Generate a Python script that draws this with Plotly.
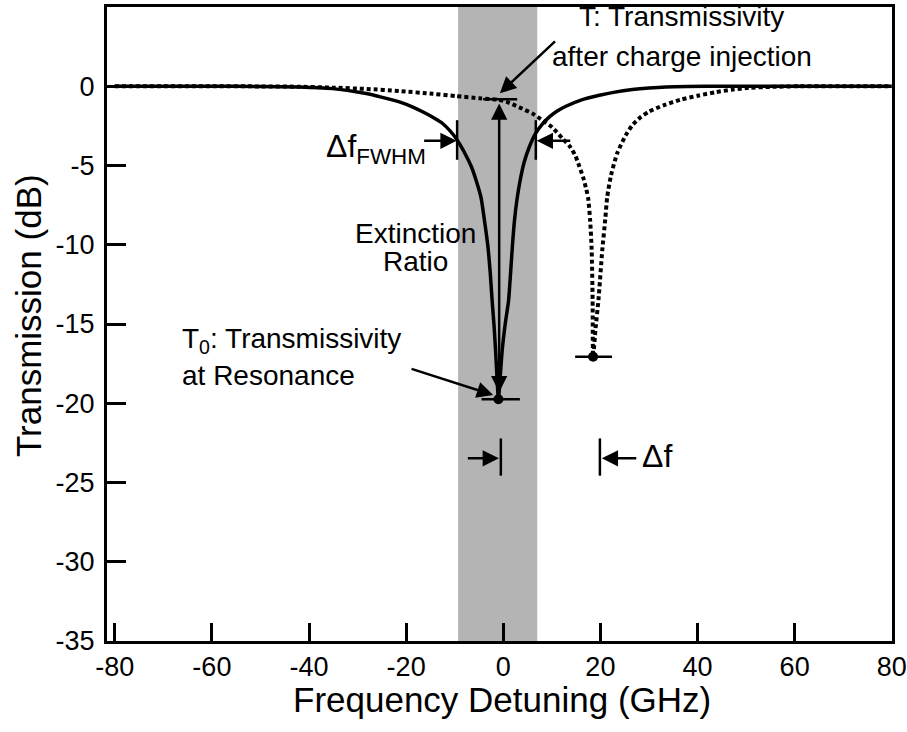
import plotly.graph_objects as go

# Resonance before charge injection (solid)
solid_x = [-80, -60, -50, -42, -35.1, -28.2, -24.9, -21.4, -18.5, -15.9, -14.0, -12.5,
           -11.0, -9.7, -8.7, -7.7, -6.6, -5.6, -4.6, -3.9, -3.2, -2.7, -2.3, -1.9,
           -1.6, -1.3, -1.0, -0.6, -0.2, 0.4, 1.1, 1.5, 1.9, 2.3, 2.8, 3.5, 4.3, 5.4,
           6.6, 8.0, 9.5, 11.2, 12.9, 16.0, 19.8, 23.0, 26.6, 30.0, 33.5, 38, 45, 60, 80]
solid_y = [0, 0, -0.01, -0.04, -0.15, -0.46, -0.7, -0.99, -1.33, -1.72, -2.05, -2.35,
           -2.8, -3.3, -3.8, -4.35, -5.05, -5.93, -7.0, -8.4, -10.0, -11.7, -13.5, -15.1,
           -16.6, -18.3, -19.75, -18.2, -16.6, -15.0, -13.5, -11.8, -10.0, -8.5, -7.2, -5.9,
           -4.8, -3.8, -3.0, -2.4, -1.93, -1.55, -1.26, -0.87, -0.57, -0.37, -0.21, -0.11,
           -0.04, -0.01, 0, 0, 0]

# Resonance after charge injection (dotted)
shifted_x = [-80, -60, -50, -42, -35, -28.2, -21.4, -14.5, -9.7, -4.9, -1.0, 0.6, 3.3,
             6.0, 8.1, 10.1, 12.2, 13.6, 14.8, 15.6, 16.5, 17.1, 17.5, 17.9, 18.2, 18.4,
             18.5, 19.0, 19.6, 20.4, 21.0, 21.4, 22.2, 23.5, 25.2, 26.6, 28.3, 30.0, 33.0,
             36.5, 40.3, 43.8, 47.0, 50.6, 55, 61, 80]
shifted_y = [0, 0, -0.01, -0.03, -0.09, -0.17, -0.3, -0.48, -0.62, -0.76, -0.85, -0.97,
             -1.33, -1.72, -2.15, -2.6, -3.3, -3.75, -4.35, -5.0, -5.8, -6.5, -7.1, -8.5,
             -10.3, -13.5, -17.07, -15.3, -13.5, -10.3, -8.4, -7.0, -5.6, -4.2, -3.1, -2.45,
             -1.95, -1.6, -1.2, -0.85, -0.58, -0.37, -0.22, -0.1, -0.04, 0, 0]

# Resonance minima
min_x = [-1.0, 18.5]
min_y = [-19.75, -17.07]

# Horizontal level markers: x start, x end, level
level_x0 = [-4.47, 14.8, -4.14]
level_x1 = [3.42, 22.4, 2.86]
level_y = [-19.75, -17.07, -0.82]

# Linewidth markers and resonance positions
fwhm_x = [-9.5, 6.7]
fwhm_y = -3.44
shift_x = [-0.5, 19.9]
shift_y = -23.47

# Shaded detuning window
band_x = [-9.3, 7.0]

x_ticks = [-80, -60, -40, -20, 0, 20, 40, 60, 80]
x_ticktext = ["-80", "-60", "-40", "-20", "0", "20", "40", "60", "80"]
y_ticks = [-35, -30, -25, -20, -15, -10, -5, 0]
y_ticktext = ["-35", "-30", "-25", "-20", "-15", "-10", "-5", "0"]

FONT = "Liberation Sans"
BLACK = "black"
W, H = 907, 732

fig = go.Figure()

fig.add_shape(type="rect", xref="x", yref="paper", x0=band_x[0], x1=band_x[1],
              y0=0, y1=1, fillcolor="rgb(180,180,180)", line_width=0, layer="below")

fig.add_trace(go.Scatter(x=solid_x, y=solid_y, mode="lines",
                         line=dict(color=BLACK, width=3.5, shape="spline", smoothing=0.6),
                         hoverinfo="skip"))
fig.add_trace(go.Scatter(x=shifted_x, y=shifted_y, mode="lines",
                         line=dict(color=BLACK, width=4, dash="4px,3px",
                                   shape="spline", smoothing=0.6),
                         hoverinfo="skip"))
fig.add_trace(go.Scatter(x=min_x, y=min_y, mode="markers",
                         marker=dict(color=BLACK, size=10), hoverinfo="skip"))

# level bars
for x0, x1, y in zip(level_x0, level_x1, level_y):
    fig.add_shape(type="line", xref="x", yref="y", x0=x0, x1=x1, y0=y, y1=y,
                  line=dict(color=BLACK, width=2.5))

# vertical end bars for FWHM and frequency shift
for xv in fwhm_x:
    fig.add_shape(type="line", xref="x", yref="y", x0=xv, x1=xv,
                  y0=fwhm_y + 1.3, y1=fwhm_y - 1.2, line=dict(color=BLACK, width=2.5))
for xv in shift_x:
    fig.add_shape(type="line", xref="x", yref="y", x0=xv, x1=xv,
                  y0=shift_y + 1.25, y1=shift_y - 1.1, line=dict(color=BLACK, width=2.5))


def arrow(x, y, ax, ay, both=False):
    """Arrow from tail (ax, ay) to head (x, y)."""
    d = dict(x=x, y=y, ax=ax, ay=ay, xref="x", yref="y", axref="x", ayref="y",
             text="", showarrow=True, arrowhead=2, arrowsize=1.3, arrowwidth=2.5,
             arrowcolor=BLACK, standoff=0, startstandoff=0)
    if both:
        d.update(arrowside="end+start", startarrowhead=2, startarrowsize=1.3)
    fig.add_annotation(**d)


arrow(fwhm_x[0] - 0.1, fwhm_y, -16.6, fwhm_y)
arrow(fwhm_x[1] + 0.2, fwhm_y, 14.1, fwhm_y)
arrow(shift_x[0] - 0.4, shift_y, -7.6, shift_y)
arrow(shift_x[1] + 0.4, shift_y, 27.7, shift_y)
arrow(-0.7, -0.44, 10.97, 2.92)
arrow(-2.08, -19.48, -19.2, -17.8)
# extinction ratio: double-headed arrow between T0 and T
arrow(-0.84, -19.3, -0.84, -1.0, both=True)


def label(text, x, y, size=28, xanchor="center"):
    fig.add_annotation(x=x, y=y, xref="x", yref="y", text=text, showarrow=False,
                       xanchor=xanchor, yanchor="middle",
                       font=dict(family=FONT, size=size, color=BLACK))


label("T: Transmissivity", 36.8, 4.37)
label("after charge injection", 36.8, 1.85)
label("Extinction", -18.1, -9.26)
label("Ratio", -18.1, -11.03)
label("T<sub>0</sub>: Transmissivity", -66.6, -16.07, xanchor="left")
label("at Resonance", -66.6, -18.22, xanchor="left")
label("Δf<sub>FWHM</sub>", -15.5, -3.9, size=32, xanchor="right")
label("Δf", 28.1, -23.33, size=32, xanchor="left")

# axis titles placed in page pixels
fig.add_annotation(text="Frequency Detuning (GHz)", xref="paper", yref="paper",
                   x=(502 - 107) / 785, y=(641 - 699) / 634, showarrow=False,
                   xanchor="center", yanchor="middle",
                   font=dict(family=FONT, size=35, color=BLACK))
fig.add_annotation(text="Transmission (dB)", xref="paper", yref="paper",
                   x=(28 - 107) / 785, y=(641 - 316) / 634, showarrow=False,
                   xanchor="center", yanchor="middle", textangle=-90,
                   font=dict(family=FONT, size=35, color=BLACK))

fig.update_layout(
    width=W, height=H,
    margin=dict(l=107, r=15, t=7, b=91, autoexpand=False),
    plot_bgcolor="white", paper_bgcolor="white",
    showlegend=False,
    font=dict(family=FONT, color=BLACK, size=27),
)
fig.update_xaxes(
    range=[-81.6, 80.05], tickvals=x_ticks, ticktext=x_ticktext, ticks="inside",
    ticklen=18, tickwidth=2.5, tickcolor=BLACK, showline=True, linewidth=3,
    linecolor=BLACK, mirror=True, showgrid=False, zeroline=False, automargin=False,
    tickfont=dict(size=27, family=FONT),
)
fig.update_yaxes(
    range=[-35, 5], tickvals=y_ticks, ticktext=y_ticktext, ticks="inside",
    ticklen=19, tickwidth=2.5, tickcolor=BLACK, showline=True, linewidth=3,
    linecolor=BLACK, mirror=True, showgrid=False, zeroline=False, automargin=False,
    tickfont=dict(size=27, family=FONT), ticklabelstandoff=4,
)

fig.write_html("out.html")
